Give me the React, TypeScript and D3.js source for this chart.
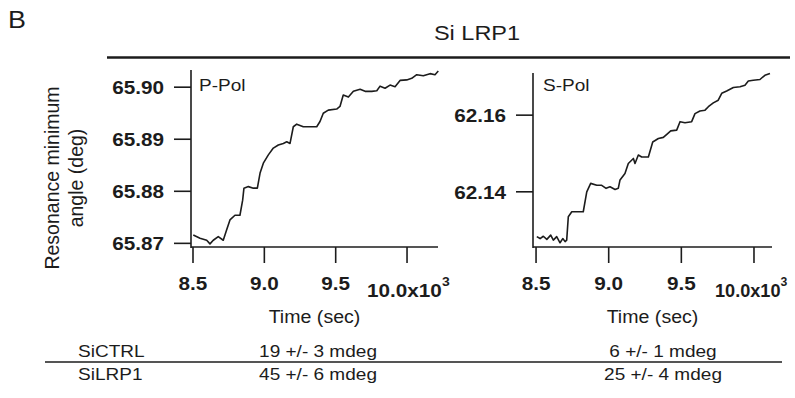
import React from "react";
import * as d3 from "d3";

// ---- Data ----
const pPolTime = [8502, 8549, 8596, 8619, 8642, 8677, 8712, 8736, 8759, 8794, 8829, 8848, 8857, 8888, 8923, 8951, 8970, 8993, 9028, 9063, 9098, 9133, 9157, 9180, 9203, 9227, 9273, 9320, 9367, 9390, 9413, 9448, 9507, 9530, 9553, 9589, 9624, 9671, 9706, 9753, 9788, 9811, 9846, 9881, 9916, 9951, 9998, 10033, 10068, 10114, 10161, 10196, 10219];
const pPolAngle = [65.8716, 65.8710, 65.8706, 65.8699, 65.8706, 65.8713, 65.8706, 65.8726, 65.8745, 65.8754, 65.8754, 65.8783, 65.8806, 65.8809, 65.8806, 65.8806, 65.8835, 65.8854, 65.8870, 65.8883, 65.8889, 65.8892, 65.8895, 65.8892, 65.8924, 65.8929, 65.8924, 65.8924, 65.8924, 65.8934, 65.8950, 65.8956, 65.8958, 65.8963, 65.8985, 65.8981, 65.8992, 65.8996, 65.8992, 65.8992, 65.8993, 65.9002, 65.8998, 65.9004, 65.9001, 65.9013, 65.9014, 65.9017, 65.9024, 65.9022, 65.9026, 65.9024, 65.9031];

const sPolTime = [8505, 8528, 8550, 8574, 8601, 8619, 8642, 8665, 8684, 8700, 8711, 8722, 8746, 8791, 8825, 8849, 8876, 8918, 8952, 8982, 9009, 9044, 9066, 9078, 9112, 9135, 9170, 9181, 9204, 9227, 9273, 9303, 9342, 9376, 9400, 9427, 9468, 9491, 9525, 9571, 9594, 9628, 9663, 9686, 9720, 9754, 9778, 9812, 9858, 9904, 9938, 9961, 9995, 10041, 10075, 10110];
const sPolAngle = [62.1283, 62.1278, 62.1284, 62.1276, 62.1287, 62.1274, 62.1283, 62.1267, 62.1278, 62.1270, 62.1274, 62.1335, 62.1348, 62.1348, 62.1348, 62.1400, 62.1422, 62.1417, 62.1417, 62.1409, 62.1413, 62.1406, 62.1409, 62.1431, 62.1448, 62.1474, 62.1487, 62.1474, 62.1496, 62.1491, 62.1491, 62.1530, 62.1539, 62.1542, 62.1550, 62.1559, 62.1561, 62.1583, 62.1580, 62.1583, 62.1604, 62.1611, 62.1613, 62.1622, 62.1632, 62.1639, 62.1657, 62.1663, 62.1672, 62.1674, 62.1678, 62.1689, 62.1691, 62.1693, 62.1704, 62.1709];

const xTicks = [8500, 9000, 9500, 10000];
const xTickLabels = ["8.5", "9.0", "9.5", "10.0x10"];
const pPolYTicks = [65.87, 65.88, 65.89, 65.9];
const sPolYTicks = [62.14, 62.16];

const tableRows = ["SiCTRL", "SiLRP1"];
const pPolValues = ["19 +/- 3 mdeg", "45 +/- 6 mdeg"];
const sPolValues = ["6 +/- 1 mdeg", "25 +/- 4 mdeg"];

const title = "Si LRP1";
const panelLabel = "B";

// ---- Layout ----
const SX = 1.12;
const FONT = "'Liberation Sans', Arial, Helvetica, sans-serif";
const INK = "#1c1c1c";

function T({ x, y, size, anchor = "start", weight = 400, sx = SX, children }: any) {
  return (
    <text
      transform={`translate(${x},${y}) scale(${sx},1)`}
      fontSize={size}
      textAnchor={anchor}
      fontWeight={weight}
      fill={INK}
    >
      {children}
    </text>
  );
}

function Panel({ times, values, xDomain, xRange, yDomain, yRange, yTicks, yFmt, name, nameDx, lastSx, lastDx }: any) {
  const x = d3.scaleLinear().domain(xDomain).range(xRange);
  const y = d3.scaleLinear().domain(yDomain).range(yRange);
  const pts = times.map((t: number, i: number) => [t, values[i]] as [number, number]);
  const line = d3.line<[number, number]>().x((d) => x(d[0])).y((d) => y(d[1]));
  const x0 = xRange[0];
  const yb = yRange[0];
  return (
    <g>
      <path d={line(pts) || ""} fill="none" stroke={INK} strokeWidth={1.6} strokeLinejoin="round" />
      <line x1={x0} x2={x0} y1={yRange[1]} y2={yb + 1} stroke={INK} strokeWidth={1.6} />
      <line x1={x0} x2={xRange[1]} y1={yb} y2={yb} stroke={INK} strokeWidth={1.6} />
      {yTicks.map((v: number) => (
        <g key={v}>
          <line x1={x0 - 17} x2={x0} y1={y(v)} y2={y(v)} stroke={INK} strokeWidth={1.6} />
          <T x={x0 - 27} y={y(v) + 7} size={18.5} anchor="end" weight={700}>
            {d3.format(yFmt)(v)}
          </T>
        </g>
      ))}
      {xTicks.map((t, i) => (
        <g key={t}>
          <line x1={x(t)} x2={x(t)} y1={yb} y2={yb + 16} stroke={INK} strokeWidth={1.6} />
          {i < xTicks.length - 1 ? (
            <T x={x(t)} y={yb + 43} size={18.5} anchor="middle" weight={700}>
              {xTickLabels[i]}
            </T>
          ) : (
            <T x={x(t) - lastDx} y={yb + 50} size={18.5} anchor="start" weight={700} sx={lastSx}>
              {xTickLabels[i]}
              <tspan dy={-11} fontSize={12.5}>3</tspan>
            </T>
          )}
        </g>
      ))}
      <T x={x0 + nameDx} y={91} size={17}>{name}</T>
      <T x={(xRange[0] + xRange[1]) / 2} y={323} size={17.5} anchor="middle">Time (sec)</T>
    </g>
  );
}

export default function App() {
  return (
    <svg
      width={795}
      height={398}
      style={{ position: "absolute", left: 0, top: 0, background: "#fff" }}
      fontFamily={FONT}
    >
      <rect width={795} height={398} fill="#fff" />
      <T x={8} y={28} size={24}>{panelLabel}</T>
      <T x={477} y={40} size={21} anchor="middle">{title}</T>
      <line x1={107} x2={790} y1={57.5} y2={57.5} stroke={INK} strokeWidth={2.6} />

      <g fontFamily={FONT}>
        <text transform="translate(59,178) rotate(-90)" fontSize={19.5} textAnchor="middle" fill={INK}>
          Resonance minimum
        </text>
        <text transform="translate(83,178) rotate(-90)" fontSize={19.5} textAnchor="middle" fill={INK}>
          angle (deg)
        </text>
      </g>

      <Panel
        times={pPolTime}
        values={pPolAngle}
        xDomain={[8486, 10217]}
        xRange={[191, 438]}
        yDomain={[65.8693, 65.9033]}
        yRange={[247, 70]}
        yTicks={pPolYTicks}
        yFmt=".2f"
        name="P-Pol"
        nameDx={8}
        lastSx={1.12}
        lastDx={40}
      />
      <Panel
        times={sPolTime}
        values={sPolAngle}
        xDomain={[8479, 10124]}
        xRange={[533, 772]}
        yDomain={[62.1256, 62.171]}
        yRange={[247, 73]}
        yTicks={sPolYTicks}
        yFmt=".2f"
        name="S-Pol"
        nameDx={10}
        lastSx={0.98}
        lastDx={39}
      />

      {tableRows.map((r, i) => (
        <g key={r}>
          <T x={78} y={357 + i * 23} size={17}>{r}</T>
          <T x={318} y={357 + i * 23} size={17} anchor="middle">{pPolValues[i]}</T>
          <T x={663} y={357 + i * 23} size={17} anchor="middle">{sPolValues[i]}</T>
        </g>
      ))}
      <line x1={45} x2={782} y1={362} y2={362} stroke={INK} strokeWidth={1.6} />
    </svg>
  );
}
